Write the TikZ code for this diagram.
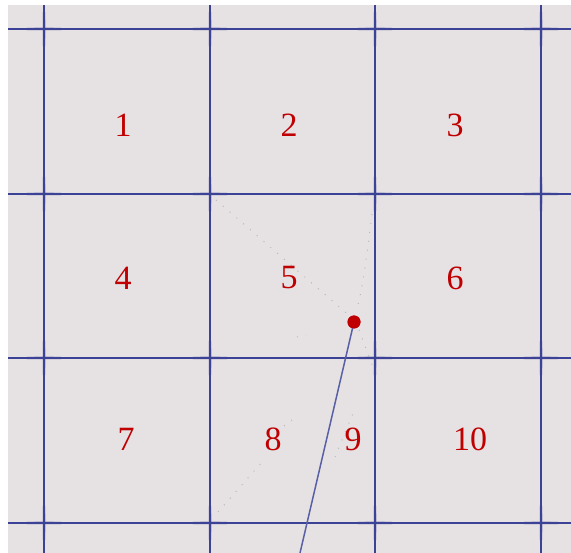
\documentclass[tikz,border=0pt]{standalone}
\usepackage{fontspec}
\setmainfont{Liberation Serif}
\definecolor{paper}{HTML}{E6E2E4}
\definecolor{gridblue}{HTML}{3C4396}
\definecolor{numred}{HTML}{C00000}
\begin{document}
\begin{tikzpicture}[x=1pt,y=-1pt,
  grid/.style={gridblue, line width=1.8pt},
  glow/.style={gridblue, opacity=0.12, line width=4pt, line cap=round},
  faint/.style={gray!55, line width=1pt, dash pattern=on 1pt off 8pt},
  num/.style={numred, font=\fontsize{34}{34}\selectfont}]
\useasboundingbox (0,0) rectangle (571,553);
\fill[white] (0,0) rectangle (571,553);
\fill[paper] (8,5) rectangle (571,553);
% faint dotted traces
\draw[faint] (216,200) -- (352,318);
\draw[faint] (372,214) .. controls (366,262) and (362,292) .. (357,308);
\draw[faint] (359,330) -- (374,370);
\draw[faint] (218,512) -- (262,462);
\draw[faint] (284,426) -- (292,420);
\draw[faint] (297,337) -- (306,335);
\draw[faint] (335,457) -- (354,411);
% grid
\foreach \x in {44,210,375,541} \draw[grid] (\x,5) -- (\x,553);
\foreach \y in {29,194,358,523} \draw[grid] (8,\y) -- (571,\y);
\foreach \x in {44,210,375,541} \foreach \y in {29,194,358,523} {
  \draw[glow] (\x-16,\y) -- (\x+16,\y);
  \draw[glow] (\x,\y-16) -- (\x,\y+16);
  \draw[glow, line width=3pt] (\x-9,\y) -- (\x+9,\y);
  \draw[glow, line width=3pt] (\x,\y-9) -- (\x,\y+9);
}
% cell numbers
\node[num] (n1) at (123,125) {1};
\node[num] (n2) at (289,125) {2};
\node[num] (n3) at (455,125) {3};
\node[num] (n4) at (123,278) {4};
\node[num] (n5) at (289,278) {5};
\node[num] (n6) at (455,278) {6};
\node[num] (n7) at (126,439) {7};
\node[num] (n8) at (273,439) {8};
\node[num] (n9) at (353,439) {9};
\node[num] (n10) at (470,439) {10};
% pin
\node[circle, fill=numred, inner sep=0pt, minimum size=13pt] (pin) at (354,322) {};
\coordinate (tail) at (300,553);
\draw[gridblue!85, line width=1.5pt] (pin.center) -- (tail);
\fill[numred] (pin) circle (6.5pt);
\end{tikzpicture}
\end{document}
